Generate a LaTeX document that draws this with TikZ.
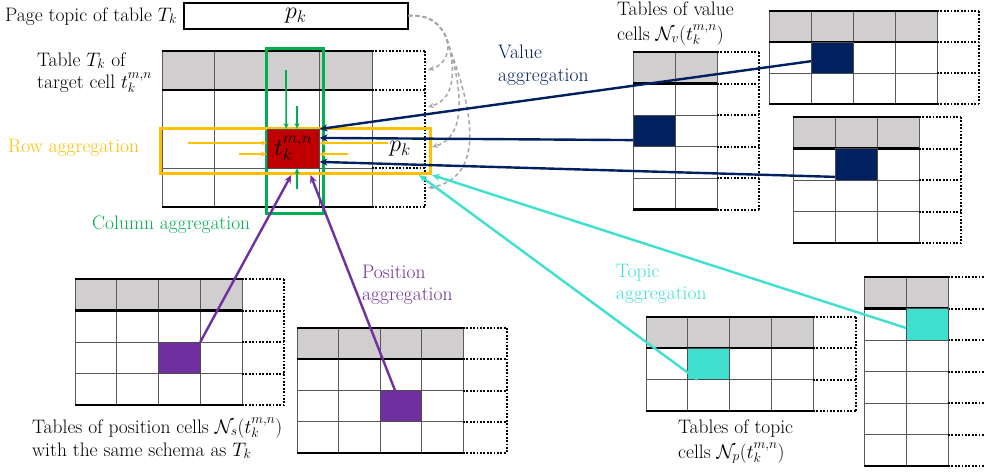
\RequirePackage{fix-cm}
\documentclass[tikz,border=0pt]{standalone}
\usetikzlibrary{arrows.meta}
\definecolor{vblue}{HTML}{002060}
\definecolor{tred}{HTML}{C00000}
\definecolor{ppurple}{HTML}{7030A0}
\definecolor{tturq}{HTML}{40E0D0}
\definecolor{ggreen}{HTML}{00B050}
\definecolor{yyellow}{HTML}{FFC000}
\definecolor{hdr}{HTML}{D0CECE}
\tikzset{
  gridline/.style={line width=1pt, draw=black!65},
  thickline/.style={line width=2.2pt, draw=black},
  dotline/.style={line width=2pt, draw=black, dash pattern=on 1.8pt off 1.6pt},
  hdrfill/.style={fill=hdr},
  hcell/.style={draw=black!70, line width=1pt, inner sep=0pt, outer sep=0pt, anchor=north west},
  lbl/.style={anchor=base west, inner sep=0pt, text height=13pt, text depth=4pt, font=\fontsize{19.5}{23}\selectfont},
  bigm/.style={font=\fontsize{24}{28}\selectfont},
  conn/.style={line width=2.4pt, -{Stealth[length=8pt,width=7pt]}},
  yarr/.style={draw=yyellow, line width=1.8pt, -{Stealth[length=6pt,width=5pt]}},
  garr/.style={draw=ggreen, line width=1.6pt, -{Stealth[length=6pt,width=5pt]}},
  darc/.style={draw=gray!70, line width=1.5pt, dash pattern=on 4pt off 3pt, -{Stealth[length=6pt,width=5pt]}},
}
% #1 x0, #2 y0, #3 col width, #4 row height, #5 cols, #6 rows, #7 dotted end x, #8 vertical dotted (1/0)
\newcommand{\gtab}[8]{%
  \pgfmathsetmacro{\tabxe}{#1+#5*#3}%
  \pgfmathsetmacro{\tabye}{#2+#6*#4}%
  \pgfmathsetmacro{\tabyh}{#2+#4}%
  \fill[hdrfill] (#1,#2) rectangle (\tabxe,\tabyh);
  \foreach \ii in {1,...,#6}{\pgfmathsetmacro{\tabyy}{#2+\ii*#4}\draw[gridline] (#1,\tabyy) -- (\tabxe,\tabyy);}
  \foreach \ii in {0,...,#5}{\pgfmathsetmacro{\tabxx}{#1+\ii*#3}\draw[gridline] (\tabxx,#2) -- (\tabxx,\tabye);}
  \draw[thickline] (#1,#2) -- (\tabxe,#2);
  \draw[thickline] (#1,\tabyh) -- (\tabxe,\tabyh);
  \draw[thickline] (#1,\tabye) -- (\tabxe,\tabye);
  \foreach \ii in {0,...,#6}{\pgfmathsetmacro{\tabyy}{#2+\ii*#4}\draw[dotline] (\tabxe,\tabyy) -- (#7,\tabyy);}
  \ifnum#8=1\relax \draw[dotline] (#7,#2) -- (#7,\tabye);\fi
}
\begin{document}
\begin{tikzpicture}[x=1pt,y=-1pt]
\useasboundingbox (0,0) rectangle (985,472);
\fill[white] (0,0) rectangle (985,472);

% page topic
\node[draw=black, line width=1.5pt, minimum width=224pt, minimum height=26pt, inner sep=0pt, anchor=north west, bigm] (pagebox) at (183,2) {$p_k$};
\node[lbl] (pagelbl) at (5,21) {Page topic of table $T_k$};

% tables
\gtab{162}{51}{52.5}{39}{4}{4}{425}{1}
\gtab{633}{52}{42}{31.5}{2}{5}{759}{1}
\gtab{769}{11}{42}{31}{4}{3}{979}{1}
\gtab{793}{117}{42}{31.5}{3}{4}{961}{1}
\gtab{646}{317}{41.75}{31.3}{4}{3}{856}{1}
\gtab{864}{277}{42}{31.5}{2}{6}{985}{0}
\gtab{75}{279}{41.75}{31.5}{4}{4}{284}{1}
\gtab{297}{328}{41.5}{31.25}{4}{4}{507}{1}

% highlighted cells
\node[hcell, fill=vblue, minimum width=42pt, minimum height=31.5pt] (v1c) at (633,115) {};
\node[hcell, fill=vblue, minimum width=42pt, minimum height=31pt] (v2c) at (811,42) {};
\node[hcell, fill=vblue, minimum width=42pt, minimum height=31.5pt] (v3c) at (835,148.5) {};
\node[hcell, fill=tturq, minimum width=41.75pt, minimum height=31.3pt] (p1c) at (687.75,348.3) {};
\node[hcell, fill=tturq, minimum width=42pt, minimum height=31.5pt] (p2c) at (906,308.5) {};
\node[hcell, fill=ppurple, minimum width=41.75pt, minimum height=31.5pt] (s1c) at (158.5,342) {};
\node[hcell, fill=ppurple, minimum width=41.5pt, minimum height=31.25pt] (s2c) at (380,390.5) {};

% aggregation boxes
\node[draw=ggreen, line width=2.5pt, minimum width=57pt, minimum height=165pt, inner sep=0pt, anchor=north west] (colbox) at (265,47) {};
\node[draw=yyellow, line width=3pt, minimum width=270pt, minimum height=45pt, inner sep=0pt, anchor=north west] (rowbox) at (159,127) {};

% target cell
\node[hcell, fill=tred, minimum width=52.5pt, minimum height=39pt, bigm] (tgt) at (267,129) {$t_k^{m,n}$};
\node[bigm, inner sep=0pt] (pk) at (400,149) {$p_k$};

% row aggregation arrows
\coordinate (ya1) at (188,143);
\coordinate (ya2) at (239,154);
\coordinate (ya3) at (388,143);
\coordinate (ya4) at (348,154);
\draw[yarr] (ya1) -- (tgt.168);
\draw[yarr] (ya2) -- (tgt.192);
\draw[yarr] (ya3) -- (tgt.12);
\draw[yarr] (ya4) -- (tgt.-12);

% column aggregation arrows
\coordinate (ga1) at (286,70);
\coordinate (ga2) at (297,106);
\coordinate (ga3) at (297,189);
\draw[garr] (ga1) -- (tgt.110);
\draw[garr] (ga2) -- (tgt.79);
\draw[garr] (ga3) -- (tgt.-79);

% page topic dashed arcs
\coordinate (gd1) at (428,70);
\coordinate (gd2) at (428,107);
\coordinate (gd3) at (432,147);
\coordinate (gd4) at (428,188);
\draw[darc] (pagebox.east) .. controls (430,14) and (442,25) .. (447,40) .. controls (450,50) and (446,65) .. (gd1);
\draw[darc] (pagebox.east) .. controls (430,14) and (442,25) .. (447,40) .. controls (453,58) and (460,98) .. (gd2);
\draw[darc] (pagebox.east) .. controls (430,14) and (442,25) .. (447,40) .. controls (456,67) and (474,135) .. (gd3);
\draw[darc] (pagebox.east) .. controls (430,14) and (442,25) .. (447,40) .. controls (458,73) and (500,175) .. (gd4);

% value aggregation
\draw[conn, vblue] (v2c.190) -- (tgt.north east);
\draw[conn, vblue] (v1c.204) -- (tgt.22);
\draw[conn, vblue] (v3c.211) -- (tgt.-27);

% topic aggregation
\draw[conn, tturq] (p2c.190) -- (rowbox.south east);
\draw[conn, tturq] (p1c.234) -- (rowbox.-11);

% position aggregation
\draw[conn, ppurple] (s1c.north east) -- (rowbox.260);
\draw[conn, ppurple] (s2c.110) -- (rowbox.-58);

% labels
\node[lbl] (tl1) at (37,66) {Table $T_k$ of};
\node[lbl] (tl2) at (37,88) {target cell $t_k^{m,n}$};
\node[lbl, text=yyellow] (rowlbl) at (8,152) {Row aggregation};
\node[lbl, text=ggreen] (collbl) at (92,229) {Column aggregation};
\node[lbl, text=vblue] (val1) at (498,58) {Value};
\node[lbl, text=vblue] (val2) at (498,81) {aggregation};
\node[lbl] (vt1) at (617,15) {Tables of value};
\node[lbl] (vt2) at (617,40) {cells $\mathcal{N}_v(t_k^{m,n})$};
\node[lbl, text=ppurple] (pos1) at (362,278) {Position};
\node[lbl, text=ppurple] (pos2) at (362,300) {aggregation};
\node[lbl, text=tturq] (top1) at (616,277) {Topic};
\node[lbl, text=tturq] (top2) at (616,299) {aggregation};
\node[lbl] (tt1) at (678,433) {Tables of topic};
\node[lbl] (tt2) at (678,458) {cells $\mathcal{N}_p(t_k^{m,n})$};
\node[lbl] (st1) at (32,433) {Tables of position cells $\mathcal{N}_s(t_k^{m,n})$};
\node[lbl] (st2) at (32,456) {with the same schema as $T_k$};
\end{tikzpicture}
\end{document}
